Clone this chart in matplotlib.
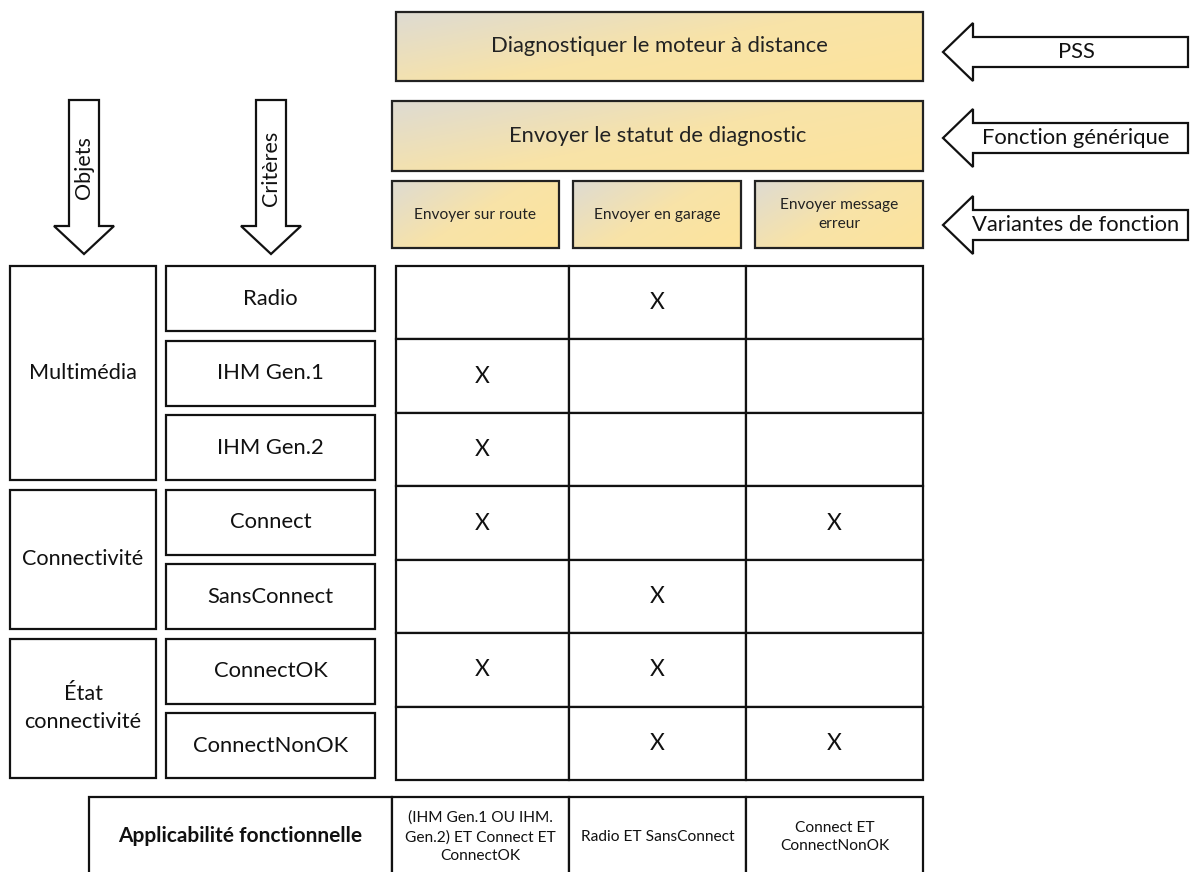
import matplotlib.pyplot as plt
import numpy as np
from matplotlib.patches import Rectangle, Polygon
from matplotlib.colors import LinearSegmentedColormap

plt.rcParams['font.family'] = ['Lato', 'DejaVu Sans']

# --- content ---
pss_label = "Diagnostiquer le moteur à distance"
generic_label = "Envoyer le statut de diagnostic"
variants = ["Envoyer sur route", "Envoyer en garage", "Envoyer message\nerreur"]
side_arrows = ["PSS", "Fonction générique", "Variantes de fonction"]
down_arrows = ["Objets", "Critères"]
objects = ["Multimédia", "Connectivité", "État\nconnectivité"]
object_rows = [3, 2, 2]
criteria = ["Radio", "IHM Gen.1", "IHM Gen.2", "Connect", "SansConnect",
            "ConnectOK", "ConnectNonOK"]
# 1 = applicable (X) for [sur route, en garage, message erreur]
marks = [
    [0, 1, 0],
    [1, 0, 0],
    [1, 0, 0],
    [1, 0, 1],
    [0, 1, 0],
    [1, 1, 0],
    [0, 1, 1],
]
applicability_title = "Applicabilité fonctionnelle"
applicability = ["(IHM Gen.1 OU IHM.\nGen.2) ET Connect ET\nConnectOK",
                 "Radio ET SansConnect",
                 "Connect ET\nConnectNonOK"]

W, H = 1192, 872
fig = plt.figure(figsize=(W / 100, H / 100), dpi=100)
ax = fig.add_axes([0, 0, 1, 1])
ax.set_xlim(0, W)
ax.set_ylim(H, 0)
ax.axis('off')

LW = 1.6
grad = LinearSegmentedColormap.from_list('g', ['#dedbd2', '#f8e3a8', '#fde49c'])


def gbox(x0, y0, x1, y1, text, size):
    u = np.linspace(0, 1, 200)[None, :]
    v = np.linspace(0, 1, 60)[:, None]
    g = 0.6 * u + 0.4 * v
    ax.imshow(g, cmap=grad, extent=(x0, x1, y1, y0), origin='upper',
              aspect='auto', zorder=1, interpolation='bilinear')
    ax.add_patch(Rectangle((x0, y0), x1 - x0, y1 - y0, fill=False,
                           ec='#222222', lw=LW, zorder=2))
    ax.text((x0 + x1) / 2, (y0 + y1) / 2, text, ha='center', va='center',
            fontsize=size, color='#222222', zorder=3, linespacing=1.5)


def box(x0, y0, x1, y1, text, size, weight='normal'):
    ax.add_patch(Rectangle((x0, y0), x1 - x0, y1 - y0, fc='white',
                           ec='#111111', lw=LW, zorder=2))
    if text:
        ax.text((x0 + x1) / 2, (y0 + y1) / 2, text, ha='center', va='center',
                fontsize=size, weight=weight, color='#111111', zorder=3,
                linespacing=1.5)


# top function boxes
gbox(396, 12, 923, 81, pss_label, 15.8)
gbox(392, 101, 923, 171, generic_label, 15.8)
vx = [(392, 559), (573, 741), (755, 923)]
for (x0, x1), t in zip(vx, variants):
    gbox(x0, 181, x1, 248, t, 11.2)

# left-pointing arrows
for yc, t in zip([52, 138, 225], side_arrows):
    pts = [(943, yc), (973, yc - 29), (973, yc - 15), (1188, yc - 15),
           (1188, yc + 15), (973, yc + 15), (973, yc + 29)]
    ax.add_patch(Polygon(pts, closed=True, fc='white', ec='#111111', lw=LW))
    ax.text(1076, yc, t, ha='center', va='center', fontsize=15.8,
            color='#111111')

# down arrows
for xc, t in zip([84, 271], down_arrows):
    pts = [(xc - 15, 100), (xc + 15, 100), (xc + 15, 226), (xc + 30, 226),
           (xc, 254), (xc - 30, 226), (xc - 15, 226)]
    ax.add_patch(Polygon(pts, closed=True, fc='white', ec='#111111', lw=LW))
    ax.text(xc, 168, t, ha='center', va='center', rotation=90,
            fontsize=15.5, color='#111111')

# criteria boxes
crit_top = 266
crit_step = 74.5
crit_h = 65
for i, c in enumerate(criteria):
    y0 = crit_top + i * crit_step
    box(166, y0, 375, y0 + crit_h, c, 15.8)

# object boxes spanning criteria
start = 0
for o, n in zip(objects, object_rows):
    y0 = crit_top + start * crit_step
    y1 = crit_top + (start + n - 1) * crit_step + crit_h
    box(10, y0, 156, y1, o, 15.6)
    start += n

# matrix
mx = [396, 569, 746, 923]
my0, my1 = 266, 780
nrows = len(criteria)
rh = (my1 - my0) / nrows
for r in range(nrows):
    for c in range(3):
        y0 = my0 + r * rh
        box(mx[c], y0, mx[c + 1], y0 + rh, "X" if marks[r][c] else "", 16.5)

# applicability row
bx = [89, 392] + mx[1:]
box(bx[0], 797, bx[1], 900, "", 15)
ax.text((bx[0] + bx[1]) / 2, 836, applicability_title, ha='center',
        va='center', fontsize=15, weight='bold', color='#111111', zorder=3)
for c, t in enumerate(applicability):
    box(bx[c + 1], 797, bx[c + 2], 900, "", 9)
    ax.text((bx[c + 1] + bx[c + 2]) / 2, 837, t, ha='center', va='center',
            fontsize=11.2, color='#111111', zorder=3, linespacing=1.45)

fig.savefig('out.png', dpi=100)
